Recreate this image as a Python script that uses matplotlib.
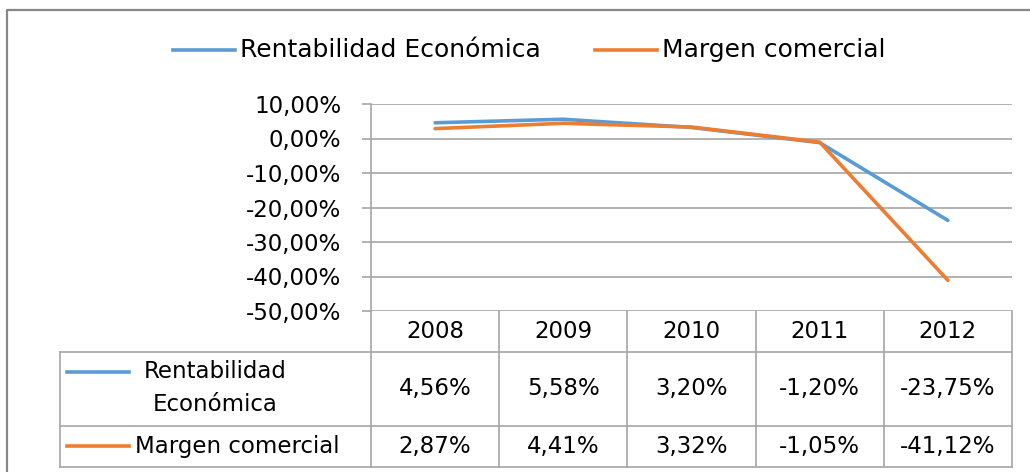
import matplotlib
matplotlib.use("Agg")
import matplotlib.pyplot as plt
from matplotlib.lines import Line2D
from matplotlib.transforms import blended_transform_factory

# ---- data ----
years = ["2008", "2009", "2010", "2011", "2012"]
rent_eco = [4.56, 5.58, 3.20, -1.20, -23.75]
margen = [2.87, 4.41, 3.32, -1.05, -41.12]
rent_labels = ["4,56%", "5,58%", "3,20%", "-1,20%", "-23,75%"]
margen_labels = ["2,87%", "4,41%", "3,32%", "-1,05%", "-41,12%"]
series_names = ["Rentabilidad Económica", "Margen comercial"]
yticks = [10, 0, -10, -20, -30, -40, -50]

BLUE = "#5B9BD5"
ORANGE = "#ED7D31"
GRID = "#a6a6a6"
W, H = 1030, 472
plt.rcParams['font.family'] = ['DejaVu Sans']

fig = plt.figure(figsize=(W / 100, H / 100), dpi=100)

def fx(x):
    return x / W

def fy(y):
    return 1 - y / H

# plot area
ax = fig.add_axes([fx(371), fy(311), fx(1012) - fx(371), fy(104) - fy(311)])
x = list(range(len(years)))
ax.plot(x, rent_eco, color=BLUE, lw=2.6, solid_capstyle='round', zorder=3)
ax.plot(x, margen, color=ORANGE, lw=2.6, solid_capstyle='round', zorder=3)
ax.set_xlim(-0.5, len(years) - 0.5)
ax.set_ylim(-50, 10)
ax.set_yticks(yticks)
ax.set_yticklabels([f"{v},00%" for v in yticks], fontsize=16.5)
ax.set_xticks([])
for s in ["top", "right", "bottom"]:
    ax.spines[s].set_visible(False)
ax.spines["left"].set_color(GRID)
ax.spines["left"].set_linewidth(1.2)
ax.tick_params(axis='y', length=6.5, width=1.2, color=GRID, pad=15)
ax.yaxis.grid(True, color=GRID, lw=1.2)
ax.set_axisbelow(True)
ax.patch.set_alpha(0)

# table
bt = blended_transform_factory(ax.transData, fig.transFigure)
lkw = dict(color=GRID, lw=1.2)
for i in range(len(years) + 1):
    xd = -0.5 + i
    fig.add_artist(Line2D([xd, xd], [fy(311), fy(467)], transform=bt, **lkw))
fig.add_artist(Line2D([fx(60), fx(60)], [fy(352), fy(467)], transform=fig.transFigure, **lkw))
xr_fig = bt.transform((len(years) - 0.5, 0))[0] / W
for yy in [352, 426, 467]:
    fig.add_artist(Line2D([fx(60), xr_fig], [fy(yy), fy(yy)], transform=fig.transFigure, **lkw))

tfs = 16.5
for i, yr in enumerate(years):
    fig.text(i, fy(331.5), yr, transform=bt, ha='center', va='center', fontsize=tfs)
    fig.text(i, fy(389), rent_labels[i], transform=bt, ha='center', va='center', fontsize=tfs)
    fig.text(i, fy(446.5), margen_labels[i], transform=bt, ha='center', va='center', fontsize=tfs)

# row headers
fig.add_artist(Line2D([fx(67), fx(129)], [fy(372), fy(372)], color=BLUE, lw=2.6,
                      transform=fig.transFigure))
fig.text(fx(215), fy(388), "Rentabilidad\nEconómica", ha='center', va='center',
         fontsize=tfs, linespacing=1.55)
fig.add_artist(Line2D([fx(67), fx(129)], [fy(446), fy(446)], color=ORANGE, lw=2.6,
                      transform=fig.transFigure))
fig.text(fx(135), fy(446.5), series_names[1], ha='left', va='center', fontsize=tfs)

# legend
fig.add_artist(Line2D([fx(173), fx(235)], [fy(50), fy(50)], color=BLUE, lw=2.6,
                      transform=fig.transFigure))
fig.text(fx(240), fy(50), series_names[0], ha='left', va='center', fontsize=18)
fig.add_artist(Line2D([fx(595), fx(657)], [fy(50), fy(50)], color=ORANGE, lw=2.6,
                      transform=fig.transFigure))
fig.text(fx(662), fy(50), series_names[1], ha='left', va='center', fontsize=18)

# outer chart border
fig.add_artist(Line2D([fx(7), fx(7), fx(1030)], [fy(472), fy(10), fy(10)],
                      color="#878787", lw=1.6, transform=fig.transFigure))

fig.savefig("out.png", dpi=100)
